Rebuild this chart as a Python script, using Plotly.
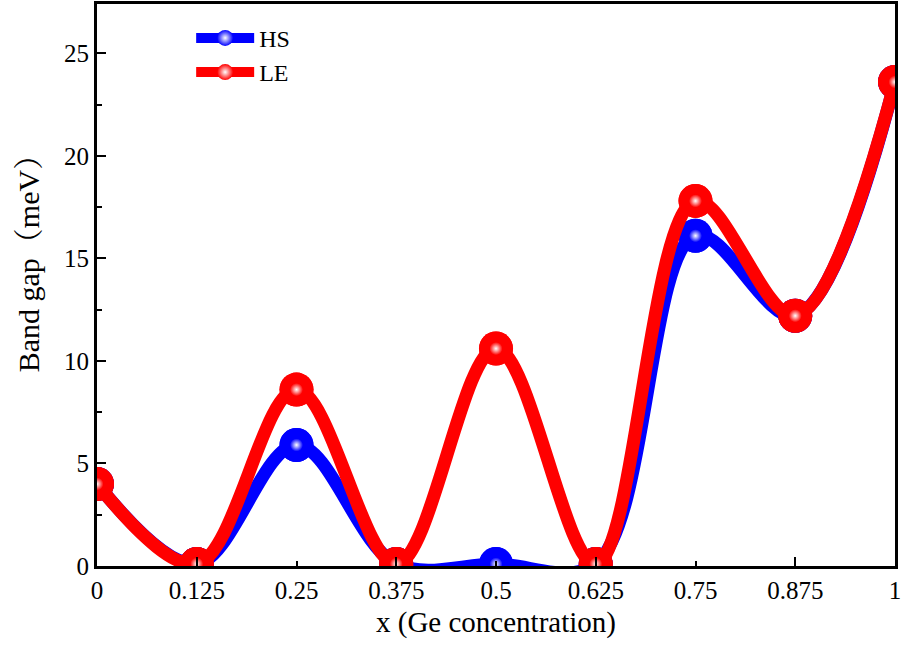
import plotly.graph_objects as go

x_vals = [0, 0.125, 0.25, 0.375, 0.5, 0.625, 0.75, 0.875, 1]
hs_vals = [4.0, 0.1, 5.9, 0.1, 0.1, 0.1, 16.1, 12.2, 23.6]
le_vals = [4.0, 0.1, 8.6, 0.1, 10.6, 0.1, 17.8, 12.2, 23.6]
tick_labels = ["0", "0.125", "0.25", "0.375", "0.5", "0.625", "0.75", "0.875", "1"]

FONT = "Liberation Serif, Times New Roman, serif"
TFONT = "Liberation Serif, Noto Serif CJK SC, Noto Sans CJK SC, serif"

fig = go.Figure()
for name, vals, col in [("HS", hs_vals, "#0000FF"), ("LE", le_vals, "#FF0000")]:
    fig.add_trace(go.Scatter(
        x=x_vals, y=vals, name=name, mode="lines+markers",
        line=dict(color=col, width=13, shape="spline", smoothing=1.0),
        marker=dict(size=34, color=col, gradient=dict(type="radial", color="white"),
                    line=dict(width=0)),
    ))
    fig.add_trace(go.Scatter(
        x=x_vals, y=vals, mode="markers", showlegend=False, hoverinfo="skip",
        marker=dict(size=34, color=col, line=dict(width=0)),
    ))
    fig.add_trace(go.Scatter(
        x=x_vals, y=vals, mode="markers", showlegend=False, hoverinfo="skip",
        marker=dict(size=13, color=col, gradient=dict(type="radial", color="white"),
                    line=dict(width=0)),
    ))

# helper axes: long ticks (x2) and top frame line (x3)
fig.add_trace(go.Scatter(x=[0, 1], y=[0, 0], xaxis="x2", mode="markers",
                         marker=dict(opacity=0), showlegend=False, hoverinfo="skip"))
fig.add_trace(go.Scatter(x=[0, 1], y=[0, 0], xaxis="x3", mode="markers",
                         marker=dict(opacity=0), showlegend=False, hoverinfo="skip"))

fig.update_layout(
    width=901, height=645,
    margin=dict(l=97, r=6, t=4, b=79),
    plot_bgcolor="white", paper_bgcolor="white",
    font=dict(family=FONT, size=24, color="black"),
    showlegend=True,
    legend=dict(x=0.118, y=0.979, xanchor="left", yanchor="top",
                bgcolor="rgba(0,0,0,0)", font=dict(family=FONT, size=24),
                itemwidth=58, tracegroupgap=0),
    xaxis=dict(range=[0, 1], tickvals=x_vals, ticktext=tick_labels,
               ticks="inside", ticklen=5, tickwidth=2, tickcolor="black",
               showline=True, linewidth=3, linecolor="black", mirror=True,
               showgrid=False, zeroline=False, automargin=False,
               ticklabeloverflow="allow",
               tickfont=dict(family=FONT, size=25),
               title=dict(text="x (Ge concentration)", font=dict(family=FONT, size=29), standoff=9)),
    xaxis2=dict(range=[0, 1], overlaying="x", side="bottom",
                tickvals=[0.125, 0.375, 0.625, 0.875], showticklabels=False,
                ticks="inside", ticklen=9, tickwidth=2, tickcolor="black",
                showgrid=False, zeroline=False, automargin=False,
                showline=True, linewidth=3, linecolor="black"),
    xaxis3=dict(range=[0, 1], overlaying="x", side="top",
                showticklabels=False, ticks="",
                showgrid=False, zeroline=False, automargin=False,
                showline=True, linewidth=3, linecolor="black"),
    yaxis=dict(range=[0, 27.4], tickvals=[0, 5, 10, 15, 20, 25],
               ticks="inside", ticklen=9, tickwidth=2, tickcolor="black",
               minor=dict(tickvals=[2.5, 7.5, 12.5, 17.5, 22.5],
                          ticks="inside", ticklen=5, tickwidth=2, tickcolor="black"),
               showline=True, linewidth=3, linecolor="black", mirror=True,
               showgrid=False, zeroline=False, automargin=False,
               tickfont=dict(family=FONT, size=25)),
    annotations=[dict(text="Band gap（meV）", textangle=-90, xref="paper", yref="paper",
                      x=-0.0865, y=0.551, xanchor="center", yanchor="middle",
                      showarrow=False, font=dict(family=TFONT, size=30, color="black"))],
)

fig.write_html(
    "out.html",
    config={"responsive": False, "displayModeBar": False},
    post_script="document.body.style.margin='0';document.body.style.overflow='hidden';",
)
